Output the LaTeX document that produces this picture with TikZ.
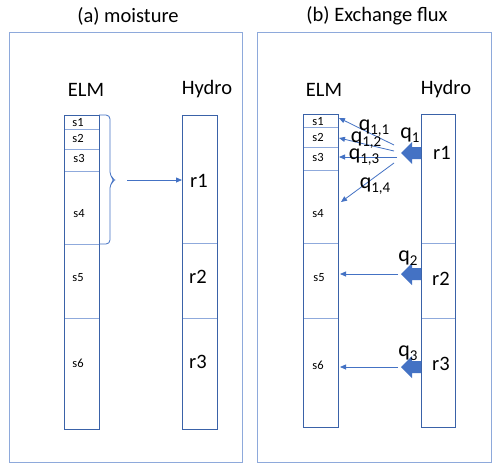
\documentclass[tikz,border=0pt]{standalone}
\usepackage{fontspec}
\setmainfont{Carlito}
\usetikzlibrary{arrows.meta}
\definecolor{frameblue}{HTML}{8EA9DB}
\definecolor{colblue}{HTML}{3A62A8}
\definecolor{lineblue}{HTML}{8FAADC}
\definecolor{arrblue}{HTML}{4472C4}
\newcommand{\qsub}[1]{q\raisebox{-4.5pt}{\fontsize{15}{15}\selectfont #1}}
\tikzset{
  frame/.style={draw=frameblue, line width=1pt},
  column/.style={draw=colblue, line width=0.9pt},
  layer/.style={draw=lineblue, line width=0.8pt},
  big/.style={font=\fontsize{20.5}{20.5}\selectfont, inner sep=0pt},
  small/.style={font=\fontsize{12.5}{12.5}\selectfont, inner sep=0pt},
  qlab/.style={font=\fontsize{22}{22}\selectfont, inner sep=0pt},
  thin arrow/.style={draw=arrblue, line width=0.8pt, -{Triangle[length=6pt,width=5pt]}},
  block/.style={fill=arrblue, draw=none}
}
\begin{document}
\begin{tikzpicture}[x=1pt,y=-1pt]
\useasboundingbox (0,0) rectangle (500,472);
\fill[white] (0,0) rectangle (500,472);
% ---------- panel (a) ----------
\node[big] (ta) at (128,16) {(a) moisture};
\draw[frame] (9,32) rectangle (242,462);
\node[big] (ea) at (86,90) {ELM};
\node[big] (ha) at (207,89) {Hydro};
\foreach \y in {129,149,171,244,318} \draw[layer] (64,\y) -- (99,\y);
\draw[column] (64,115) rectangle (99,429);
\node[small] (as1) at (78,123) {s1};
\node[small] (as2) at (78,138) {s2};
\node[small] (as3) at (79,158) {s3};
\node[small] (as4) at (79,214) {s4};
\node[small] (as5) at (78,278) {s5};
\node[small] (as6) at (78,363) {s6};
\foreach \y in {243,318} \draw[layer] (182,\y) -- (217,\y);
\draw[column] (182,115) rectangle (217,429);
\node[big] (ar1) at (199,181) {r1};
\node[big] (ar2) at (198,277) {r2};
\node[big] (ar3) at (198,362) {r3};
\draw[draw=arrblue, line width=0.8pt, rounded corners=4pt] (99,115) -- (110,115) -- (110,176) -- (115,180) -- (110,184) -- (110,244) -- (99,244);
\coordinate (bracetip) at (127,180);
\coordinate (ar1in) at (182,180);
\draw[thin arrow] (bracetip) -- (ar1in);
% ---------- panel (b) ----------
\node[big] (tb) at (377,16) {(b) Exchange flux};
\draw[frame] (257,32) rectangle (491,462);
\node[big] (eb) at (324,90) {ELM};
\node[big] (hb) at (446,89) {Hydro};
\foreach \y in {127,147,170,243,318} \draw[layer] (303,\y) -- (338,\y);
\draw[column] (303,114) rectangle (338,427);
\node[small] (bs1) at (318,122) {s1};
\node[small] (bs2) at (318,137) {s2};
\node[small] (bs3) at (318,157) {s3};
\node[small] (bs4) at (318,214) {s4};
\node[small] (bs5) at (319,278) {s5};
\node[small] (bs6) at (318,365) {s6};
\foreach \y in {243,318} \draw[layer] (421,\y) -- (455,\y);
\draw[column] (421,114) rectangle (455,427);
\node[big] (br1) at (442,153) {r1};
\node[big] (br2) at (441,279) {r2};
\node[big] (br3) at (441,364) {r3};
% block arrows
\foreach \n/\y in {1/153,2/274,3/367}{
  \fill[block] (401,\y) -- (412,\y-11) -- (412,\y-6) -- (421,\y-6) -- (421,\y+6) -- (412,\y+6) -- (412,\y+11) -- cycle;
}
% thin arrows
\coordinate (q11s) at (394,145); \coordinate (q11e) at (339,118);
\coordinate (q12s) at (394,151); \coordinate (q12e) at (339,138);
\coordinate (q13s) at (397,157); \coordinate (q13e) at (339,157);
\coordinate (q14s) at (394,163); \coordinate (q14e) at (341,202);
\coordinate (q2s) at (398,274); \coordinate (q2e) at (340,274);
\coordinate (q3s) at (398,367); \coordinate (q3e) at (340,367);
\draw[thin arrow] (q11s) -- (q11e);
\draw[thin arrow] (q12s) -- (q12e);
\draw[thin arrow] (q13s) -- (q13e);
\draw[thin arrow] (q14s) -- (q14e);
\draw[thin arrow] (q2s) -- (q2e);
\draw[thin arrow] (q3s) -- (q3e);
\node[qlab] (l11) at (374,128) {\qsub{1,1}};
\node[qlab] (l12) at (366,140) {\qsub{1,2}};
\node[qlab] (l13) at (364,157) {\qsub{1,3}};
\node[qlab] (l14) at (375,186) {\qsub{1,4}};
\node[qlab] (l1) at (410,135) {\qsub{1}};
\node[qlab] (l2) at (408,258) {\qsub{2}};
\node[qlab] (l3) at (408,353) {\qsub{3}};
\end{tikzpicture}
\end{document}
